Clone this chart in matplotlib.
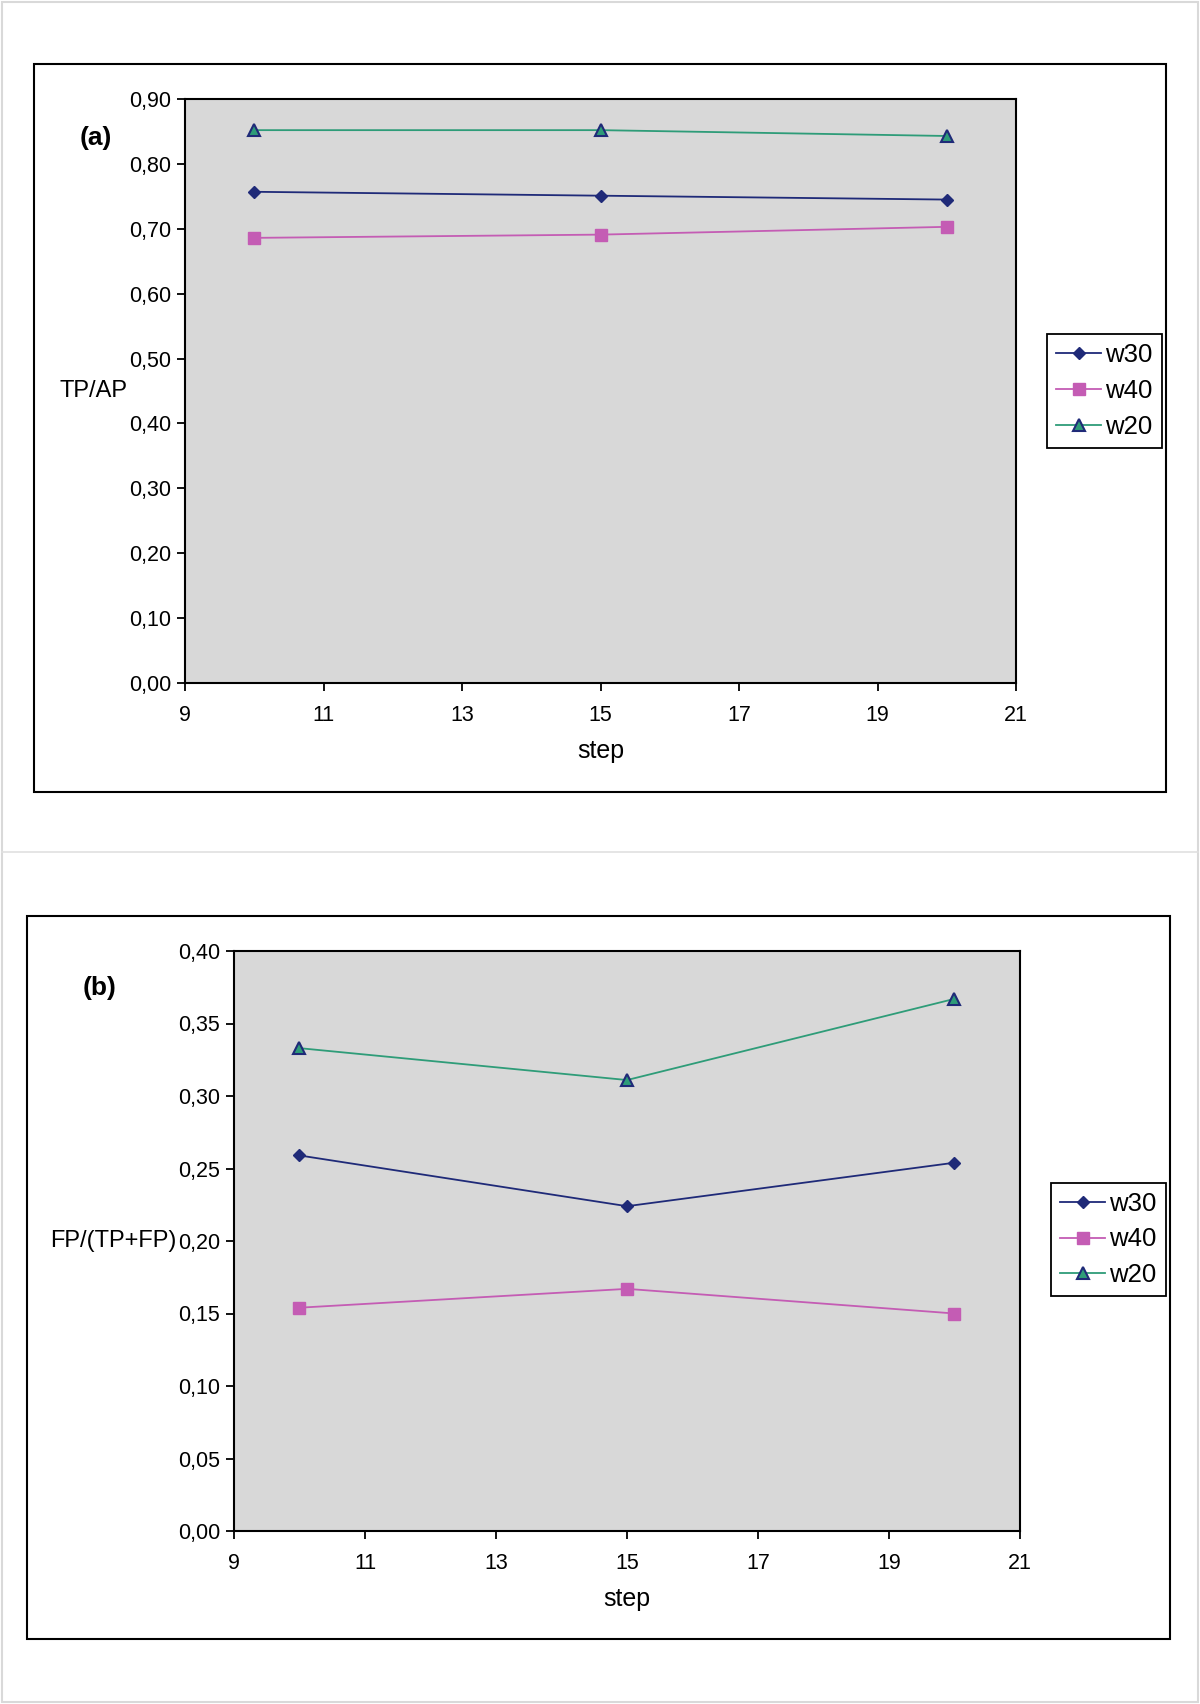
import matplotlib
matplotlib.use("Agg")
import matplotlib.pyplot as plt
from matplotlib.patches import Rectangle
from matplotlib.lines import Line2D
from matplotlib.ticker import FixedLocator, FuncFormatter

plt.rcParams['font.family'] = ['Liberation Sans', 'DejaVu Sans']

# ---- data ----
steps = [10, 15, 20]
series_names = ['w30', 'w40', 'w20']
a_w30 = [0.757, 0.751, 0.745]
a_w40 = [0.686, 0.691, 0.703]
a_w20 = [0.852, 0.852, 0.843]
b_w30 = [0.259, 0.224, 0.254]
b_w40 = [0.154, 0.167, 0.150]
b_w20 = [0.333, 0.311, 0.367]
x_ticks = [9, 11, 13, 15, 17, 19, 21]
a_yticks = [0.0, 0.1, 0.2, 0.3, 0.4, 0.5, 0.6, 0.7, 0.8, 0.9]
b_yticks = [0.0, 0.05, 0.10, 0.15, 0.20, 0.25, 0.30, 0.35, 0.40]

W, H = 1200, 1704
fig = plt.figure(figsize=(W / 100, H / 100), dpi=100)

def fx(x):
    return x / W

def fy(y):
    return 1 - y / H

def add_rect(x0, y0, x1, y1, color='black', lw=1.5):
    fig.patches.append(Rectangle((fx(x0), fy(y1)), fx(x1) - fx(x0), fy(y0) - fy(y1),
                                 transform=fig.transFigure, fill=False,
                                 edgecolor=color, linewidth=lw))

# outer frame and separator
add_rect(2, 2, 1198, 1702, color='#d9d9d9', lw=1.5)
fig.lines.append(Line2D([fx(2), fx(1198)], [fy(852), fy(852)], transform=fig.transFigure,
                        color='#e0e0e0', lw=1.2))

# panel boxes
add_rect(34, 64, 1166, 792)
add_rect(27, 916, 1170, 1639)

styles = {
    'w30': dict(color='#1f2a78', marker='D', ms=6.3, mfc='#1f2a78', mec='#1f2a78'),
    'w40': dict(color='#c45cb4', marker='s', ms=8.2, mfc='#c45cb4', mec='#c45cb4'),
    'w20': dict(color='#2e9c78', marker='^', ms=9, mfc='#2e9c78', mec='#1f2a78', mew=1.5),
}

comma = FuncFormatter(lambda v, p: ('%.2f' % v).replace('.', ','))

def make_axes(rect_px, data, yticks, ymax, ylabel, ylabel_pos, label, label_pos,
              xlabel_pos, legend_px):
    x0, y0, x1, y1 = rect_px
    ax = fig.add_axes([fx(x0), fy(y1), fx(x1) - fx(x0), fy(y0) - fy(y1)])
    ax.set_facecolor('#d8d8d8')
    handles = []
    for name, vals in zip(series_names, data):
        st = styles[name]
        h, = ax.plot(steps, vals, lw=1.3, label=name, **st)
        handles.append(h)
    ax.set_xlim(9, 21)
    ax.set_ylim(0, ymax)
    ax.xaxis.set_major_locator(FixedLocator(x_ticks))
    ax.yaxis.set_major_locator(FixedLocator(yticks))
    ax.yaxis.set_major_formatter(comma)
    ax.tick_params(direction='out', length=6, width=1.3, labelsize=15.5, pad=4)
    ax.tick_params(axis='x', pad=10)
    for s in ax.spines.values():
        s.set_linewidth(1.5)
    fig.text(fx(label_pos[0]), fy(label_pos[1]), label, fontsize=19, fontweight='bold',
             ha='center', va='center')
    fig.text(fx(ylabel_pos[0]), fy(ylabel_pos[1]), ylabel, fontsize=17,
             ha='center', va='center')
    fig.text(fx(xlabel_pos[0]), fy(xlabel_pos[1]), 'step', fontsize=18,
             ha='center', va='center')
    lx0, ly0, lx1, ly1 = legend_px
    leg = fig.legend(handles=handles, loc='center', bbox_to_anchor=(fx((lx0 + lx1) / 2), fy((ly0 + ly1) / 2)),
                     bbox_transform=fig.transFigure, fontsize=18.5, frameon=True, fancybox=False,
                     edgecolor='black', framealpha=1, handlelength=1.75, handletextpad=0.15,
                     borderpad=0.35, labelspacing=0.45, borderaxespad=0)
    leg.get_frame().set_linewidth(1.3)
    return ax

make_axes((185, 99, 1016, 683), [a_w30, a_w40, a_w20], a_yticks, 0.9,
          'TP/AP', (93, 391), '(a)', (96, 138), (601, 751), (1050, 336, 1159, 446))
make_axes((234, 951, 1020, 1531), [b_w30, b_w40, b_w20], b_yticks, 0.4,
          'FP/(TP+FP)', (113, 1241), '(b)', (100, 988), (627, 1599), (1054, 1185, 1163, 1294))

fig.savefig('out.png', dpi=100)
